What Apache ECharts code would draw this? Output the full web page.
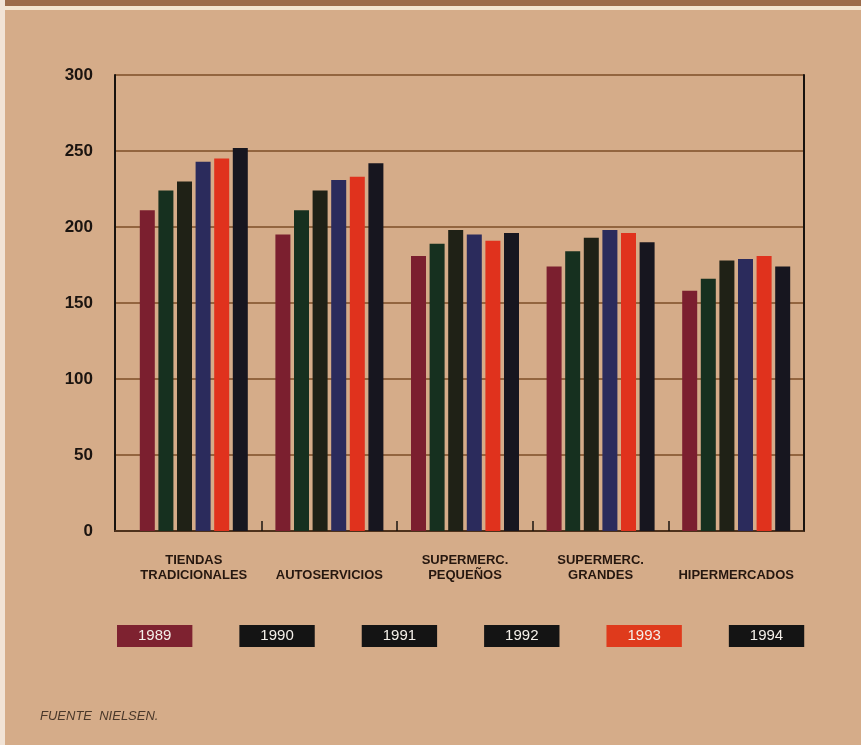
<!DOCTYPE html>
<html>
<head>
<meta charset="utf-8">
<script src="https://cdn.jsdelivr.net/npm/echarts@6/dist/echarts.min.js"></script>
<style>
  html, body { margin: 0; padding: 0; background: #d5ac89; }
  #chart { width: 861px; height: 745px; }
</style>
</head>
<body>
<div id="chart"></div>
<script>
// Store formats (Nielsen), index values by year
const categories = [
  'TIENDAS\nTRADICIONALES',
  '\nAUTOSERVICIOS',
  'SUPERMERC.\nPEQUEÑOS',
  'SUPERMERC.\nGRANDES',
  '\nHIPERMERCADOS'
];
const years = ['1989', '1990', '1991', '1992', '1993', '1994'];
const v1989 = [211, 195, 181, 174, 158];
const v1990 = [224, 211, 189, 184, 166];
const v1991 = [230, 224, 198, 193, 178];
const v1992 = [243, 231, 195, 198, 179];
const v1993 = [245, 233, 191, 196, 181];
const v1994 = [252, 242, 196, 190, 174];
const yTicks = [0, 50, 100, 150, 200, 250, 300];
const source = 'FUENTE  NIELSEN.';

const seriesValues = [v1989, v1990, v1991, v1992, v1993, v1994];
const barColors = ['#7b1f2f', '#16301f', '#1f2116', '#2b2b5c', '#e0321d', '#17161f'];
const keyColors = ['#7e2230', '#141414', '#141414', '#141414', '#df3a1c', '#141414'];

const chart = echarts.init(document.getElementById('chart'), null, { renderer: 'canvas' });

const yMin = yTicks[0], yMax = yTicks[yTicks.length - 1], yStep = yTicks[1] - yTicks[0];

const option = {
  backgroundColor: '#d5ac89',
  animation: false,
  textStyle: { fontFamily: '"Liberation Sans", Arial, sans-serif' },
  title: {
    text: source,
    left: 35, top: 705,
    textStyle: { fontSize: 13, fontStyle: 'italic', fontWeight: 'normal', color: '#4a382a' }
  },
  legend: {
    left: 107, top: 620,
    icon: 'none',
    itemWidth: 0, itemHeight: 22,
    itemGap: 42,
    selectedMode: false,
    data: years.map((y, i) => ({
      name: y,
      textStyle: {
        color: '#f4f0ea', fontSize: 15, lineHeight: 14,
        backgroundColor: keyColors[i],
        padding: [4, 21, 4, 21]
      }
    }))
  },
  graphic: [
    { type: 'rect', left: 0, top: 0, shape: { width: 861, height: 6 }, style: { fill: '#9c6b4a' }, silent: true },
    { type: 'rect', left: 0, top: 6, shape: { width: 861, height: 4 }, style: { fill: '#f3e4d0' }, silent: true },
    { type: 'rect', left: 0, top: 0, shape: { width: 5, height: 745 }, style: { fill: '#f1e3d6' }, silent: true }
  ],
  grid: [
    { left: 126, top: 75, width: 678, height: 456 },
    { left: 115, top: 75, width: 689, height: 456 }
  ],
  xAxis: [
    {
      type: 'category', gridIndex: 0, data: categories,
      axisLine: { show: false },
      axisTick: {
        show: true, inside: true, length: 10,
        interval: (i) => i > 0,
        lineStyle: { color: '#1b1510', width: 1.5 }
      },
      axisLabel: {
        interval: 0, margin: 22, fontSize: 13, fontWeight: 'bold', lineHeight: 15,
        color: '#26170f'
      }
    },
    {
      type: 'category', gridIndex: 1, data: [''],
      axisLine: { show: true, lineStyle: { color: '#17120e', width: 2 } },
      axisTick: { show: false }, axisLabel: { show: false }
    },
    {
      type: 'category', gridIndex: 1, data: [''], position: 'top',
      axisLine: { show: true, lineStyle: { color: '#4e321c', width: 2 } },
      axisTick: { show: false }, axisLabel: { show: false }
    }
  ],
  yAxis: [
    { type: 'value', gridIndex: 0, min: yMin, max: yMax, interval: yStep, show: false },
    {
      type: 'value', gridIndex: 1, min: yMin, max: yMax, interval: yStep,
      axisLine: { show: true, lineStyle: { color: '#17120e', width: 2 } },
      axisTick: { show: false },
      axisLabel: { margin: 22, fontSize: 17, fontWeight: 'bold', color: '#1b1410' },
      splitLine: { show: true, lineStyle: { color: '#93653f', width: 2 } }
    },
    {
      type: 'value', gridIndex: 1, min: yMin, max: yMax, interval: yStep, position: 'right',
      axisLine: { show: true, lineStyle: { color: '#17120e', width: 2 } },
      axisTick: { show: false }, axisLabel: { show: false }, splitLine: { show: false }
    }
  ],
  series: years.map((y, i) => ({
    name: y,
    type: 'bar',
    xAxisIndex: 0, yAxisIndex: 0,
    data: seriesValues[i],
    barWidth: 15,
    barGap: '24%',
    itemStyle: { color: barColors[i] },
    z: 3
  }))
};

chart.setOption(option);
</script>
</body>
</html>
